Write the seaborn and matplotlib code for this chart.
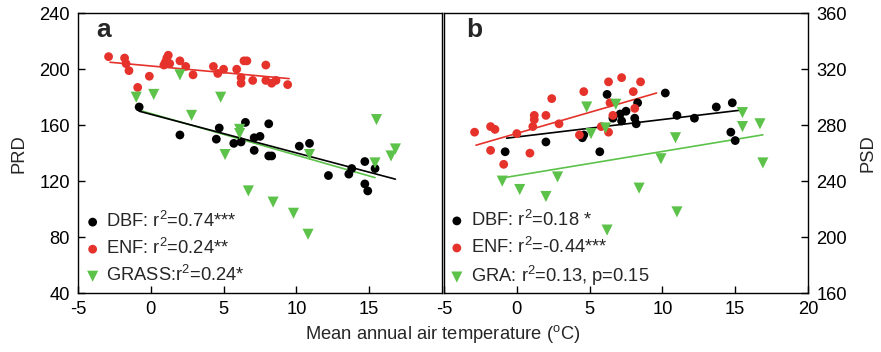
import matplotlib
matplotlib.use("Agg")
import matplotlib.pyplot as plt
import seaborn as sns
import pandas as pd

# ---------------- data ----------------
# Panel a (PRD)
a_dbf_x = [-0.8, 2.0, 4.7, 4.5, 5.7, 6.2, 6.5, 7.1, 7.1, 7.5, 8.1, 8.1, 8.3, 10.2, 10.9, 12.2, 13.6, 13.8, 14.7, 15.4, 14.7, 14.9]
a_dbf_y = [173, 153, 158, 150, 147, 148, 162, 151, 142, 152, 161, 138, 138, 145, 147, 124, 125, 129, 134, 129, 118, 113]
a_enf_x = [-2.9, -1.8, -1.7, -1.5, -0.9, -0.1, 0.9, 1.0, 1.1, 1.2, 1.3, 2.0, 2.4, 2.9, 4.3, 4.6, 5.0, 5.9, 6.4, 6.6, 6.2, 6.2, 7.0, 7.9, 7.9, 8.3, 8.6, 9.4]
a_enf_y = [209, 208, 204, 199, 187, 195, 203, 205, 208, 210, 204, 206, 202, 196, 202, 197, 200, 200, 206, 206, 194, 190, 192, 203, 192, 190, 192, 189]
a_gra_x = [-1.0, 0.2, 2.0, 2.8, 4.8, 6.1, 6.1, 5.1, 10.9, 15.5, 15.4, 16.5, 16.8, 6.7, 8.4, 9.8, 10.8]
a_gra_y = [180, 182, 196, 167, 180, 157, 154, 139, 139, 164, 133, 138, 143, 113, 105, 97, 82]
a_fit_x = {"DBF": [-0.8, 16.8], "ENF": [-2.8, 9.5], "GRASS": [-0.9, 15.4]}
a_fit_y = {"DBF": [170, 121.4], "ENF": [205, 193.3], "GRASS": [171, 122.5]}
a_labels = ["DBF: r$^2$=0.74***", "ENF: r$^2$=0.24**", "GRASS:r$^2$=0.24*"]

# Panel b (PSD)
b_dbf_x = [-0.8, 2.0, 4.5, 4.6, 5.7, 6.2, 6.6, 7.1, 7.2, 7.5, 8.1, 8.2, 8.3, 10.2, 11.0, 12.2, 13.7, 14.8, 14.7, 15.0]
b_dbf_y = [261, 268, 271, 273, 261, 302, 285, 288, 283, 290, 285, 281, 296, 303, 287, 285, 293, 296, 275, 269]
b_enf_x = [-2.9, -1.8, -1.5, -1.8, -0.9, 0.0, 0.9, 1.1, 1.2, 1.2, 2.0, 2.4, 2.9, 4.3, 4.6, 5.8, 6.3, 6.4, 6.3, 6.6, 7.2, 8.0, 8.1, 8.5]
b_enf_y = [275, 279, 277, 262, 252, 274, 260, 279, 287, 284, 287, 299, 281, 273, 304, 279, 311, 296, 275, 287, 314, 304, 292, 311]
b_gra_x = [4.8, 5.1, 6.1, 6.8, 10.9, 9.9, 15.5, 15.5, 16.7, 16.9, -1.0, 0.2, 2.0, 2.8, 8.4, 11.0, 6.2]
b_gra_y = [293, 274, 278, 295, 271, 256, 289, 279, 281, 253, 240, 234, 229, 243, 235, 218, 205]
b_fit_x = {"DBF": [-0.7, 15.5], "ENF": [-2.8, 9.6], "GRASS": [-1.2, 16.9]}
b_fit_y = {"DBF": [270.7, 290.9], "ENF": [265.7, 303], "GRASS": [241.9, 273.1]}
b_labels = ["DBF: r$^2$=0.18 *", "ENF: r$^2$=-0.44***", "GRA: r$^2$=0.13, p=0.15"]

x_ticks = [-5, 0, 5, 10, 15]
x_ticks_b = [-5, 0, 5, 10, 15, 20]
a_yticks = [40, 80, 120, 160, 200, 240]
b_yticks = [160, 200, 240, 280, 320, 360]

# ---------------- style ----------------
sns.set_theme(style="ticks")
plt.rcParams["font.family"] = ["Liberation Sans", "DejaVu Sans"]
plt.rcParams["mathtext.fontset"] = "custom"
plt.rcParams["mathtext.rm"] = "Liberation Sans"
plt.rcParams["mathtext.it"] = "Liberation Sans:italic"
plt.rcParams["mathtext.default"] = "regular"
plt.rcParams["axes.unicode_minus"] = False

FS = 13.2
colors = {"DBF": "#000000", "ENF": "#e5322b", "GRASS": "#5cc24a"}
markers = {"DBF": "o", "ENF": "o", "GRASS": "v"}
msize = {"DBF": 40, "ENF": 40, "GRASS": 64}

W, H = 881, 352
fig = plt.figure(figsize=(W / 100, H / 100), dpi=100)
bottom = 1 - 293 / H
height = (293 - 13.3) / H
axa = fig.add_axes([78 / W, bottom, 364 / W, height])
axb = fig.add_axes([444 / W, bottom, 364 / W, height])


def draw(ax, xs, ys, fx, fy, labels):
    for key, x, y, lab in zip(["DBF", "ENF", "GRASS"], xs, ys, labels):
        df = pd.DataFrame({"T": x, "v": y})
        sns.scatterplot(data=df, x="T", y="v", color=colors[key], marker=markers[key],
                        s=msize[key], edgecolor="none", linewidth=0, label=lab, ax=ax, zorder=3)
    for key in ["ENF", "GRASS", "DBF"]:
        ldf = pd.DataFrame({"T": fx[key], "v": fy[key]})
        sns.lineplot(data=ldf, x="T", y="v", color=colors[key], lw=1.2, legend=False, ax=ax, zorder=2)
    ax.set_xlim(-5, 20)
    ax.set_xlabel("")
    ax.set_ylabel("")
    for sp in ax.spines.values():
        sp.set_visible(True)
        sp.set_linewidth(1.0)
        sp.set_color("black")


draw(axa, [a_dbf_x, a_enf_x, a_gra_x], [a_dbf_y, a_enf_y, a_gra_y], a_fit_x, a_fit_y, a_labels)
draw(axb, [b_dbf_x, b_enf_x, b_gra_x], [b_dbf_y, b_enf_y, b_gra_y], b_fit_x, b_fit_y, b_labels)

axa.set_ylim(40, 240)
axa.set_yticks(a_yticks)
axa.set_xticks(x_ticks)
axa.tick_params(direction="in", length=5.2, width=1, labelsize=FS, colors="black", pad=6)
axa.set_ylabel("PRD", fontsize=FS, labelpad=8)

axb.set_ylim(160, 360)
axb.set_yticks(b_yticks)
axb.set_xticks(x_ticks_b)
axb.yaxis.tick_right()
axb.yaxis.set_label_position("right")
axb.tick_params(direction="in", length=5.2, width=1, labelsize=FS, colors="black", pad=6)
axb.set_ylabel("PSD", fontsize=FS, labelpad=9)

fig.text((78 + 808) / 2 / W, 0.02, r"Mean annual air temperature ($^{o}$C)", ha="center", va="bottom", fontsize=FS)

axa.text(0.05, 0.94, "a", transform=axa.transAxes, fontsize=19, fontweight="bold", va="center", ha="left")
axb.text(0.06, 0.94, "b", transform=axb.transAxes, fontsize=19, fontweight="bold", va="center", ha="left")

axa.legend(frameon=False, loc="lower left", bbox_to_anchor=(0.005, 0.012), fontsize=FS,
           handlelength=0.9, handletextpad=0.3, labelspacing=0.38, borderpad=0.15,
           borderaxespad=0.1)
axb.legend(frameon=False, loc="lower left", bbox_to_anchor=(0.0, 0.002), fontsize=FS,
           handlelength=0.9, handletextpad=0.3, labelspacing=0.38, borderpad=0.15,
           borderaxespad=0.1)

fig.savefig("out.png", dpi=100)
